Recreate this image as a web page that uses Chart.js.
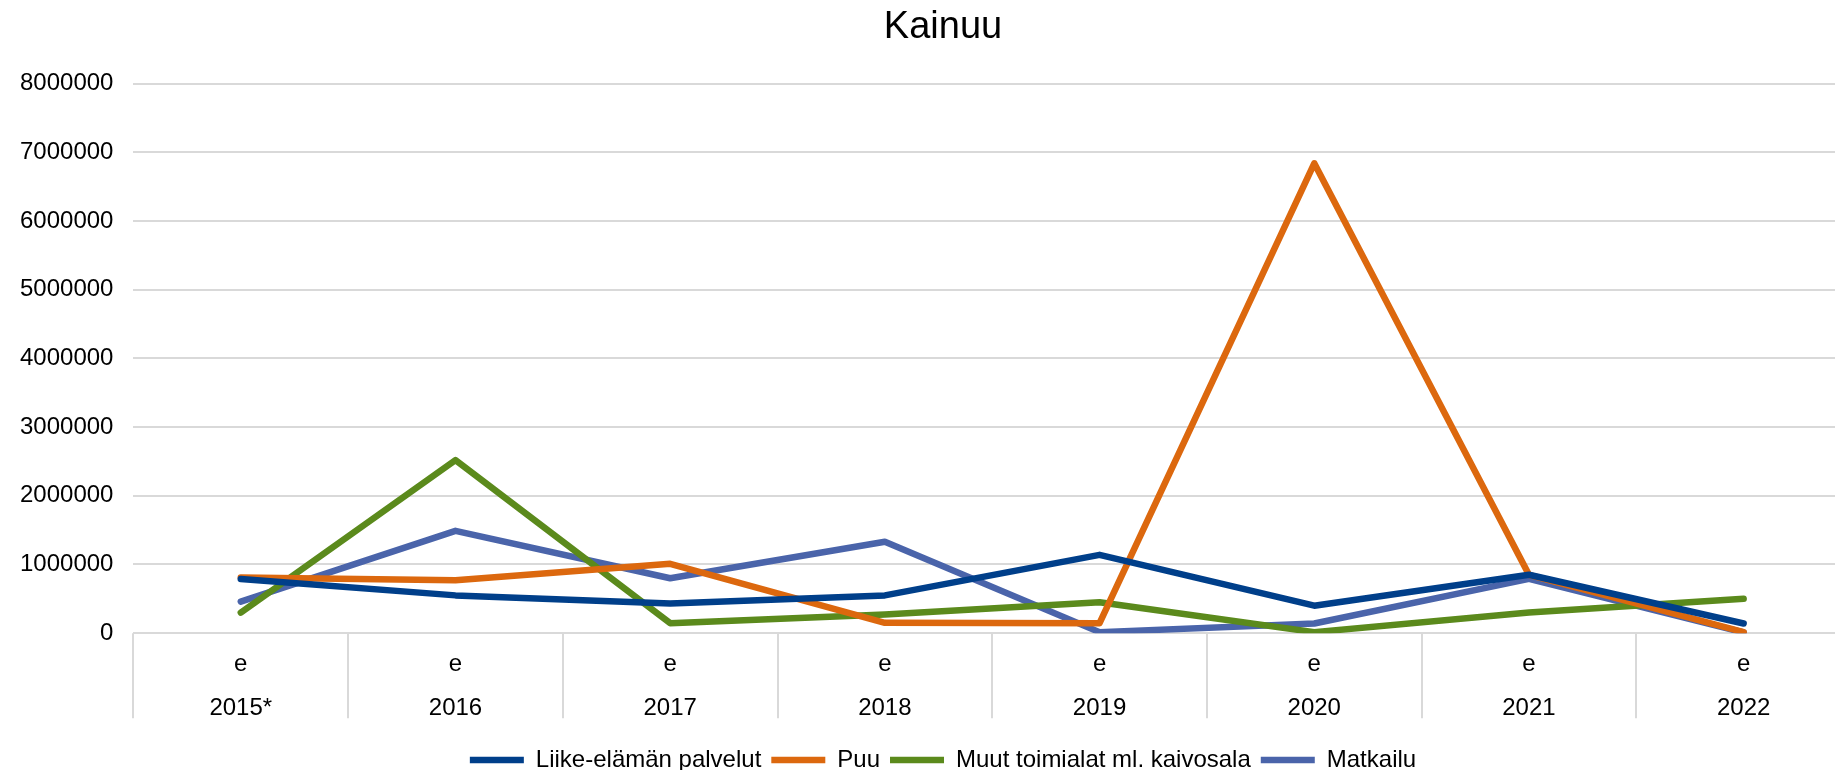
<!DOCTYPE html>
<html>
<head>
<meta charset="utf-8">
<script src="https://cdn.jsdelivr.net/npm/chart.js@4"></script>
<style>
    html, body { margin: 0; padding: 0; background: #fff; overflow: hidden; }
    #wrap { width: 1886px; height: 782px; position: relative; }
</style>
</head>
<body>
<div id="wrap"><canvas id="myChart"></canvas></div>
<script>
const years = ['2015*', '2016', '2017', '2018', '2019', '2020', '2021', '2022'];
const marks = ['e', 'e', 'e', 'e', 'e', 'e', 'e', 'e'];

const liike = [790000, 550000, 430000, 550000, 1140000, 400000, 850000, 140000];
const puu = [810000, 770000, 1010000, 150000, 145000, 6840000, 850000, 15000];
const muut = [300000, 2520000, 145000, 270000, 450000, 15000, 300000, 500000];
const matkailu = [460000, 1490000, 800000, 1330000, 15000, 140000, 790000, 10000];

const yTicks = [0, 1000000, 2000000, 3000000, 4000000, 5000000, 6000000, 7000000, 8000000];

// vertical separators between the x categories, below the plot
const separators = {
    id: 'separators',
    afterDraw(chart) {
        const x = chart.scales.x;
        const c = chart.ctx;
        const top = chart.chartArea.bottom;
        const step = x.getPixelForValue(1) - x.getPixelForValue(0);
        c.save();
        c.strokeStyle = '#d9d9d9';
        c.lineWidth = 2;
        for (let i = 0; i <= years.length; i++) {
            const px = Math.round(x.getPixelForValue(i) - step / 2);
            c.beginPath();
            c.moveTo(px, top);
            c.lineTo(px, top + 85);
            c.stroke();
        }
        c.restore();
    }
};

// center title and legend on the whole canvas, not on the padded area
const centerBlocks = {
    id: 'centerBlocks',
    afterLayout(chart) {
        [chart.titleBlock, chart.legend].forEach(b => {
            if (!b) return;
            b.left = 0;
            b.right = chart.width;
            b.width = chart.width;
        });
    }
};

document.addEventListener('DOMContentLoaded', () => {
    const ctx = document.getElementById('myChart');

    const line = (label, data, color) => ({
        label: label,
        data: data,
        borderColor: color,
        backgroundColor: color,
        borderWidth: 6.5,
        pointRadius: 0,
        tension: 0,
        borderCapStyle: 'round',
        borderJoinStyle: 'round'
    });

    new Chart(ctx, {
        type: 'line',
        data: {
            labels: years.map((y, i) => [marks[i], y]),
            datasets: [
                line('Liike-elämän palvelut', liike, '#003f8a'),
                line('Puu', puu, '#dc680e'),
                line('Muut toimialat ml. kaivosala', muut, '#5b8a1c'),
                line('Matkailu', matkailu, '#4a64aa')
            ]
        },
        plugins: [separators, centerBlocks],
        options: {
            responsive: true,
            maintainAspectRatio: false,
            animation: false,
            layout: { padding: { left: 0, right: 35, top: 0, bottom: 0 } },
            plugins: {
                title: {
                    display: true,
                    text: 'Kainuu',
                    color: '#000',
                    font: { family: 'Liberation Sans, Arial', size: 38, weight: 'normal' },
                    padding: { top: 5, bottom: 33 }
                },
                legend: {
                    position: 'bottom',
                    labels: {
                        usePointStyle: true,
                        pointStyle: 'line',
                        pointStyleWidth: 54,
                        color: '#000',
                        padding: 10,
                        font: { family: 'Liberation Sans, Arial', size: 24 }
                    }
                },
                tooltip: { enabled: false }
            },
            scales: {
                x: {
                    offset: true,
                    border: { display: false },
                    grid: { display: false },
                    afterFit: axis => { axis.height += 7; },
                    ticks: {
                        color: '#000',
                        padding: 1,
                        maxRotation: 0,
                        autoSkip: false,
                        font: { family: 'Liberation Sans, Arial', size: 24, lineHeight: 1.83 }
                    }
                },
                y: {
                    min: 0,
                    max: 8000000,
                    border: { display: false },
                    grid: { color: '#d9d9d9', lineWidth: 2, drawTicks: false },
                    afterBuildTicks: axis => { axis.ticks = yTicks.map(v => ({ value: v })); },
                    ticks: {
                        color: '#000',
                        padding: 20,
                        callback: v => String(v),
                        font: { family: 'Liberation Sans, Arial', size: 24 }
                    }
                }
            }
        }
    });
});
</script>
</body>
</html>
